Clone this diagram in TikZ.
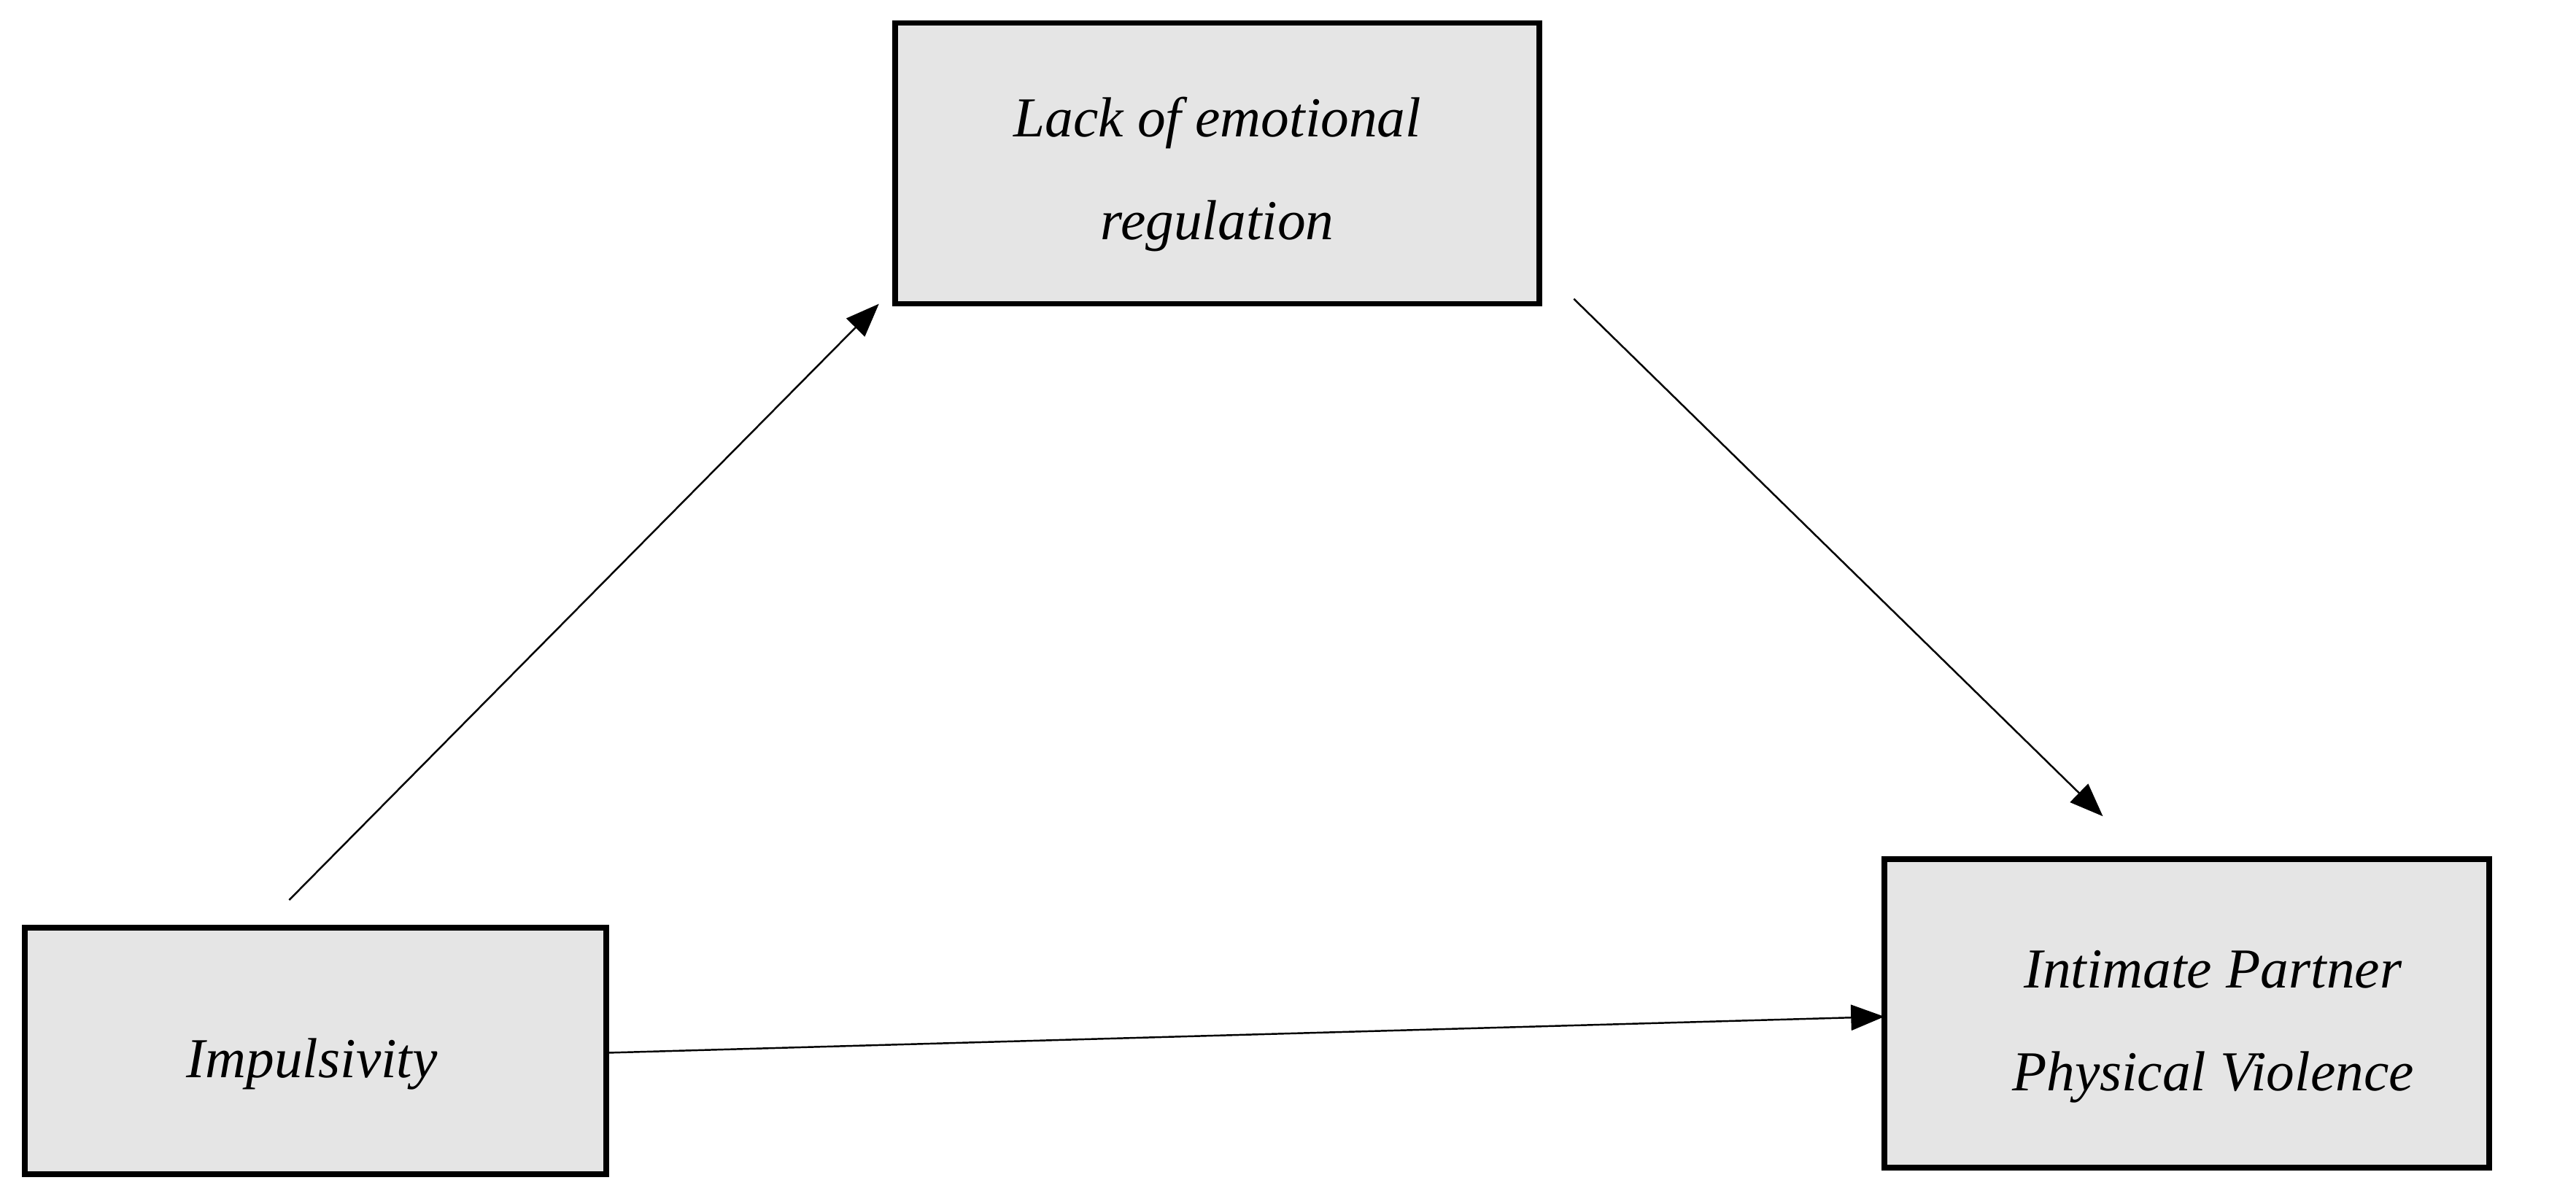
\documentclass[tikz,border=0pt]{standalone}
\usepackage{fontspec}
\setmainfont{Liberation Serif}
\usetikzlibrary{arrows.meta}
\begin{document}
\begin{tikzpicture}[x=0.0225cm,y=-0.0225cm,
  box/.style={draw=black,line width=2.2pt,fill=black!10},
  lbl/.style={font=\fontsize{22}{40}\selectfont\itshape,align=center},
  arr/.style={line width=0.7pt,-{Triangle[length=13pt,width=10pt]}}]
\useasboundingbox (0,0) rectangle (1568,730);
\draw[box] (545,14) rectangle (937,185);
\draw[box] (15,565) rectangle (369,715);
\draw[box] (1147,523) rectangle (1515,711);
\node[lbl] (lack) at (741,106) {Lack of emotional\\regulation};
\node[lbl] (imp) at (190,648) {Impulsivity};
\node[lbl] (ipv) at (1347,625) {Intimate Partner\\Physical Violence};
\coordinate (a1) at (176,548); \coordinate (a2) at (535,185);
\coordinate (b1) at (958,182); \coordinate (b2) at (1280,497);
\coordinate (c1) at (370,641); \coordinate (c2) at (1147,619);
\draw[arr] (a1) -- (a2);
\draw[arr] (b1) -- (b2);
\draw[arr] (c1) -- (c2);
\end{tikzpicture}
\end{document}
